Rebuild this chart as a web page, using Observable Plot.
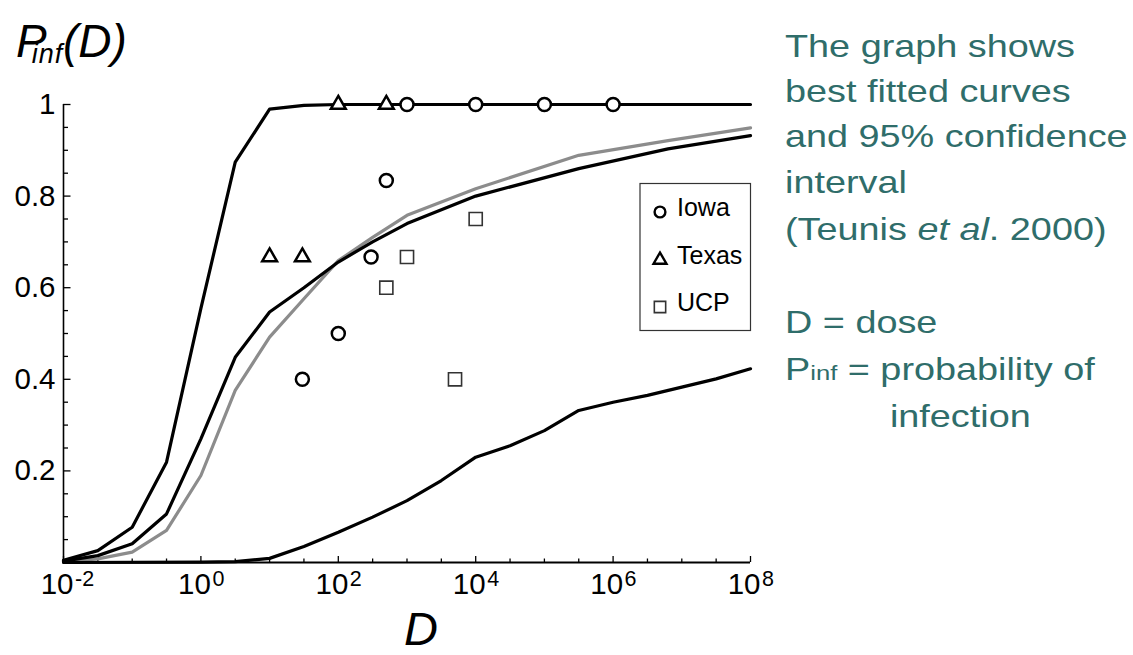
<!DOCTYPE html>
<html><head><meta charset="utf-8">
<script src="https://cdn.jsdelivr.net/npm/d3@7"></script>
<script src="https://cdn.jsdelivr.net/npm/@observablehq/plot@0.6"></script>
<style>
html,body{margin:0;padding:0;background:#fff;}
#chart{position:relative;width:1133px;height:655px;overflow:hidden;}
</style></head><body><div id="chart"></div>
<script>
// ---- data (dose D, probability of infection) ----
const upperDose = [0.01, 0.0316, 0.1, 0.316, 1, 3.16, 10, 31.6, 100, 1e8];
const upperP    = [0.005, 0.026, 0.077, 0.219, 0.555, 0.874, 0.99, 0.998, 1.0, 1.0];

const fitDose = [0.01, 0.0316, 0.1, 0.316, 1, 3.16, 10, 31.6, 100, 316, 1000, 1e4, 3.16e5, 6.3e6, 1e8];
const fitP    = [0.003, 0.015, 0.041, 0.106, 0.27, 0.448, 0.547, 0.60, 0.656, 0.70, 0.74, 0.80, 0.86, 0.903, 0.932];

const grayDose = [0.01, 0.0316, 0.1, 0.316, 1, 3.16, 10, 31.6, 100, 316, 1000, 1e4, 3.16e5, 6.3e6, 1e8];
const grayP    = [0.002, 0.008, 0.0225, 0.07, 0.19, 0.376, 0.492, 0.576, 0.659, 0.71, 0.758, 0.816, 0.889, 0.921, 0.949];

const lowerDose = [0.01, 1, 3.16, 10, 31.6, 100, 316, 1000, 3162, 1e4, 31623, 1e5, 316228, 1e6, 3162278, 1e7, 31622777, 1e8];
const lowerP    = [0.0, 0.001, 0.002, 0.009, 0.035, 0.066, 0.099, 0.135, 0.179, 0.23, 0.255, 0.288, 0.332, 0.35, 0.365, 0.383, 0.401, 0.423];

const iowaDose = [30, 100, 300, 500, 1000, 1e4, 1e5, 1e6];
const iowaP    = [0.40, 0.50, 0.667, 0.834, 1, 1, 1, 1];
const texasDose = [10, 30, 100, 500];
const texasP    = [0.667, 0.667, 1, 1];
const ucpDose = [500, 1000, 5000, 1e4];
const ucpP    = [0.60, 0.667, 0.40, 0.75];

const legendLabels = ["Iowa", "Texas", "UCP"];

// ---- ticks ----
const xMajorTicks = [1e-2, 1, 1e2, 1e4, 1e6, 1e8];
const xExponents  = ["-2", "0", "2", "4", "6", "8"];
const xMinorTicks = [0.0316, 0.1, 0.316, 3.16, 10, 31.6, 316, 1000, 3162, 31623, 1e5, 316228, 3162278, 1e7, 31622777];
const yMajorTicks = [0.2, 0.4, 0.6, 0.8, 1];
const yTickLabels = ["0.2", "0.4", "0.6", "0.8", "1"];
const yMinorTicks = [0.05, 0.1, 0.15, 0.25, 0.3, 0.35, 0.45, 0.5, 0.55, 0.65, 0.7, 0.75, 0.85, 0.9, 0.95];

const rightText = [
  [["The graph shows"]],
  [["best fitted curves"]],
  [["and 95% confidence"]],
  [["interval"]],
  [["(Teunis "], ["et al", "italic"], [". 2000)"]],
  null,
  [["D = dose"]],
  [["P"], ["inf", "small"], [" = probability of"]],
  [["infection", "indent"]]
];

const FONT = "'Liberation Sans', Arial, Helvetica, sans-serif";
const TEAL = "#2f6d6a";

const plot = Plot.plot({
  width: 1133,
  height: 655,
  marginLeft: 63,
  marginRight: 383,
  marginTop: 104,
  marginBottom: 93,
  style: {fontFamily: FONT, background: "white", color: "black"},
  x: {type: "log", domain: [1e-2, 1e8]},
  y: {domain: [0, 1]},
  marks: [
    Plot.axisX(xMinorTicks, {tickSize: -3.5, tickFormat: () => "", strokeWidth: 1.3, label: null}),
    Plot.axisX(xMajorTicks, {tickSize: -6, tickFormat: () => "", strokeWidth: 1.3, label: null}),
    Plot.axisY(yMinorTicks, {tickSize: -5, tickFormat: () => "", strokeWidth: 1.3, label: null}),
    Plot.axisY(yMajorTicks, {tickSize: -7.5, tickFormat: () => "", strokeWidth: 1.3, label: null}),
    Plot.ruleX([1e-2], {y1: 0, y2: 1, stroke: "black", strokeWidth: 1.6}),
    Plot.ruleY([0], {stroke: "black", strokeWidth: 1.8}),
    Plot.text(yMajorTicks, {y: d => d, text: yTickLabels, frameAnchor: "left", textAnchor: "end", dx: -8, fontSize: 29.5, fill: "black"}),
    Plot.text(xMajorTicks, {x: d => d, text: () => "10", frameAnchor: "bottom", textAnchor: "end", dx: 10, dy: 31.7, fontSize: 29.5, fill: "black"}),
    Plot.text(xMajorTicks, {x: d => d, text: xExponents, frameAnchor: "bottom", textAnchor: "start", dx: 11.5, dy: 23, fontSize: 21.5, fill: "black"}),
    Plot.line(grayDose, {x: grayDose, y: grayP, stroke: "#8c8c8c", strokeWidth: 3.2}),
    Plot.line(fitDose, {x: fitDose, y: fitP, stroke: "black", strokeWidth: 3.2}),
    Plot.line(lowerDose, {x: lowerDose, y: lowerP, stroke: "black", strokeWidth: 3.2}),
    Plot.line(upperDose, {x: upperDose, y: upperP, stroke: "black", strokeWidth: 3.2}),
    Plot.dot(iowaDose, {x: iowaDose, y: iowaP, symbol: "circle", r: 6.5, stroke: "black", strokeWidth: 2.5, fill: "white"}),
    Plot.dot(texasDose, {x: texasDose, y: texasP, symbol: "triangle", r: 5.5, stroke: "black", strokeWidth: 2.5, fill: "white"}),
    Plot.dot(ucpDose, {x: ucpDose, y: ucpP, symbol: "square", r: 7.4, stroke: "#333", strokeWidth: 1.6, fill: "white"})
  ]
});

document.getElementById("chart").appendChild(plot);
const svg = d3.select(plot);

// y title  P_inf(D) as a single text with tspans
const yt = svg.append("text").attr("x", 16).attr("y", 57).attr("font-family", FONT).attr("font-style", "italic")
  .attr("fill", "black").attr("text-anchor", "start").attr("font-size", 46);
yt.append("tspan").text("P");
yt.append("tspan").attr("dx", -15).attr("dy", 6).attr("font-size", 27).attr("letter-spacing", 1).text("inf");
yt.append("tspan").attr("x", 63).attr("y", 57).text("(D)");

// x title
svg.append("text").attr("x", 404).attr("y", 645).attr("font-family", FONT).attr("font-style", "italic")
  .attr("text-anchor", "start").attr("font-size", 47).attr("fill", "black").text("D");

// legend
const lg = svg.append("g").attr("font-family", FONT).attr("text-anchor", "start");
lg.append("rect").attr("x", 640).attr("y", 183.5).attr("width", 110.5).attr("height", 147)
  .attr("fill", "white").attr("stroke", "#333").attr("stroke-width", 1.2);
const legSym = [d3.symbolCircle, d3.symbolTriangle, d3.symbolSquare];
const legSize = [Math.PI * 5.4 * 5.4, Math.PI * 4.8 * 4.8, Math.PI * 6.4 * 6.4];
const legStroke = [["black", 2.4], ["black", 2.4], ["#333", 1.6]];
const legY = [212, 260, 307];
legendLabels.forEach((lab, i) => {
  lg.append("path").attr("transform", `translate(660,${legY[i]})`)
    .attr("d", d3.symbol(legSym[i], legSize[i])())
    .attr("fill", "white").attr("stroke", legStroke[i][0]).attr("stroke-width", legStroke[i][1]);
  lg.append("text").attr("x", 677).attr("y", legY[i] + 4).attr("font-size", 25).attr("fill", "black").text(lab);
});

// right-hand explanatory text (horizontally stretched as in the slide)
const rt = svg.append("g").attr("transform", "translate(785,0) scale(1.22,1)")
  .attr("font-family", FONT).attr("font-size", 31).attr("fill", TEAL).attr("text-anchor", "start");
const baselines = [57, 102, 147, 193, 240, 287, 333, 380, 427];
rightText.forEach((line, i) => {
  if (!line) return;
  const t = rt.append("text").attr("y", baselines[i]).attr("x", line[0][1] === "indent" ? 86 : 0);
  line.forEach(([s, kind]) => {
    const ts = t.append("tspan").text(s);
    if (kind === "italic") ts.attr("font-style", "italic");
    if (kind === "small") ts.attr("font-size", 21);
  });
});
</script>
</body></html>
